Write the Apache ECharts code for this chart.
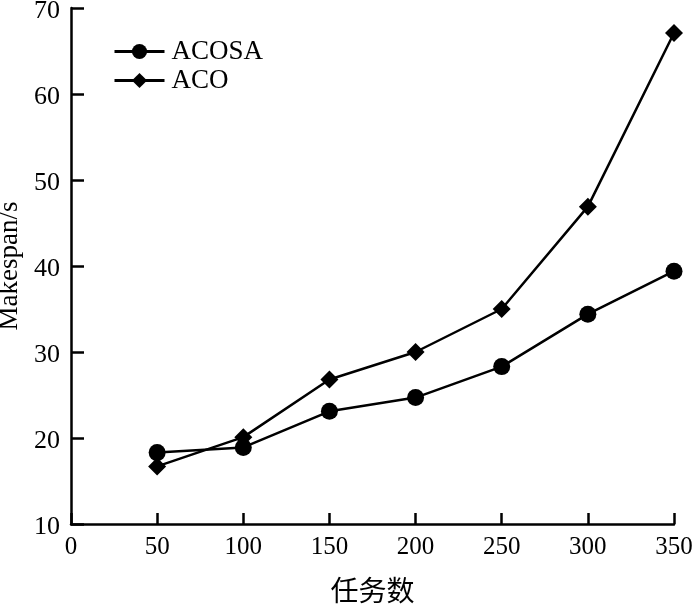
<!DOCTYPE html>
<html>
<head>
<meta charset="utf-8">
<script src="https://cdn.jsdelivr.net/npm/echarts@6/dist/echarts.min.js"></script>
<style>html,body{margin:0;padding:0;background:#fff;}#c{width:700px;height:604px;}</style>
</head>
<body>
<div id="c"></div>
<script>
const xValues = [50, 100, 150, 200, 250, 300, 350];
const acosa = [18.3, 18.9, 23.1, 24.7, 28.3, 34.4, 39.4];
const aco = [16.7, 20.1, 26.8, 30.0, 35.0, 46.9, 67.1];
const seriesNames = ['ACOSA', 'ACO'];
const xName = '任务数';
const yName = 'Makespan/s';

const font = 'Liberation Serif, Times New Roman, serif';
const chart = echarts.init(document.getElementById('c'));
chart.setOption({
  backgroundColor: '#fff',
  animation: false,
  grid: { left: 71, right: 26, top: 8, bottom: 80, containLabel: false, outerBoundsMode: 'none' },
  legend: {
    orient: 'vertical',
    left: 108, top: 33,
    itemWidth: 50, itemHeight: 19, itemGap: 2,
    textStyle: { fontFamily: font, fontSize: 27, color: '#000', padding: [0,0,0,2] },
    data: seriesNames.map(n => ({ name: n, itemStyle: { color: '#000' }, lineStyle: { width: 3, color: '#000' } }))
  },
  xAxis: {
    type: 'value', min: 0, max: 350, interval: 50,
    name: xName, nameLocation: 'middle', nameGap: 52,
    nameTextStyle: { fontFamily: 'Noto Sans CJK SC', fontSize: 28, color: '#000' },
    axisLine: { lineStyle: { color: '#000', width: 2.5 } },
    axisTick: { inside: true, length: 11, lineStyle: { color: '#000', width: 2.5 } },
    axisLabel: { fontFamily: font, fontSize: 25, color: '#000', margin: 11 },
    splitLine: { show: false }
  },
  yAxis: {
    type: 'value', min: 10, max: 70, interval: 10,
    name: yName, nameLocation: 'middle', nameGap: 46,
    nameTextStyle: { fontFamily: font, fontSize: 27, color: '#000' },
    axisLine: { show: true, lineStyle: { color: '#000', width: 2.5 } },
    axisTick: { show: true, inside: true, length: 13, lineStyle: { color: '#000', width: 2.5 } },
    axisLabel: {
      color: '#000', margin: 11,
      formatter: v => '{a|' + v + '}',
      rich: { a: { fontFamily: font, fontSize: 26, color: '#000', padding: [7, 0, 0, 0] } }
    },
    splitLine: { show: false }
  },
  series: [
    {
      name: seriesNames[0], type: 'line', symbol: 'circle', symbolSize: 17,
      data: xValues.map((x, i) => [x, acosa[i]]),
      lineStyle: { color: '#000', width: 2.5 }, itemStyle: { color: '#000' }
    },
    {
      name: seriesNames[1], type: 'line', symbol: 'diamond', symbolSize: 18,
      data: xValues.map((x, i) => [x, aco[i]]),
      lineStyle: { color: '#000', width: 2.5 }, itemStyle: { color: '#000' }
    }
  ]
});
</script>
</body>
</html>
